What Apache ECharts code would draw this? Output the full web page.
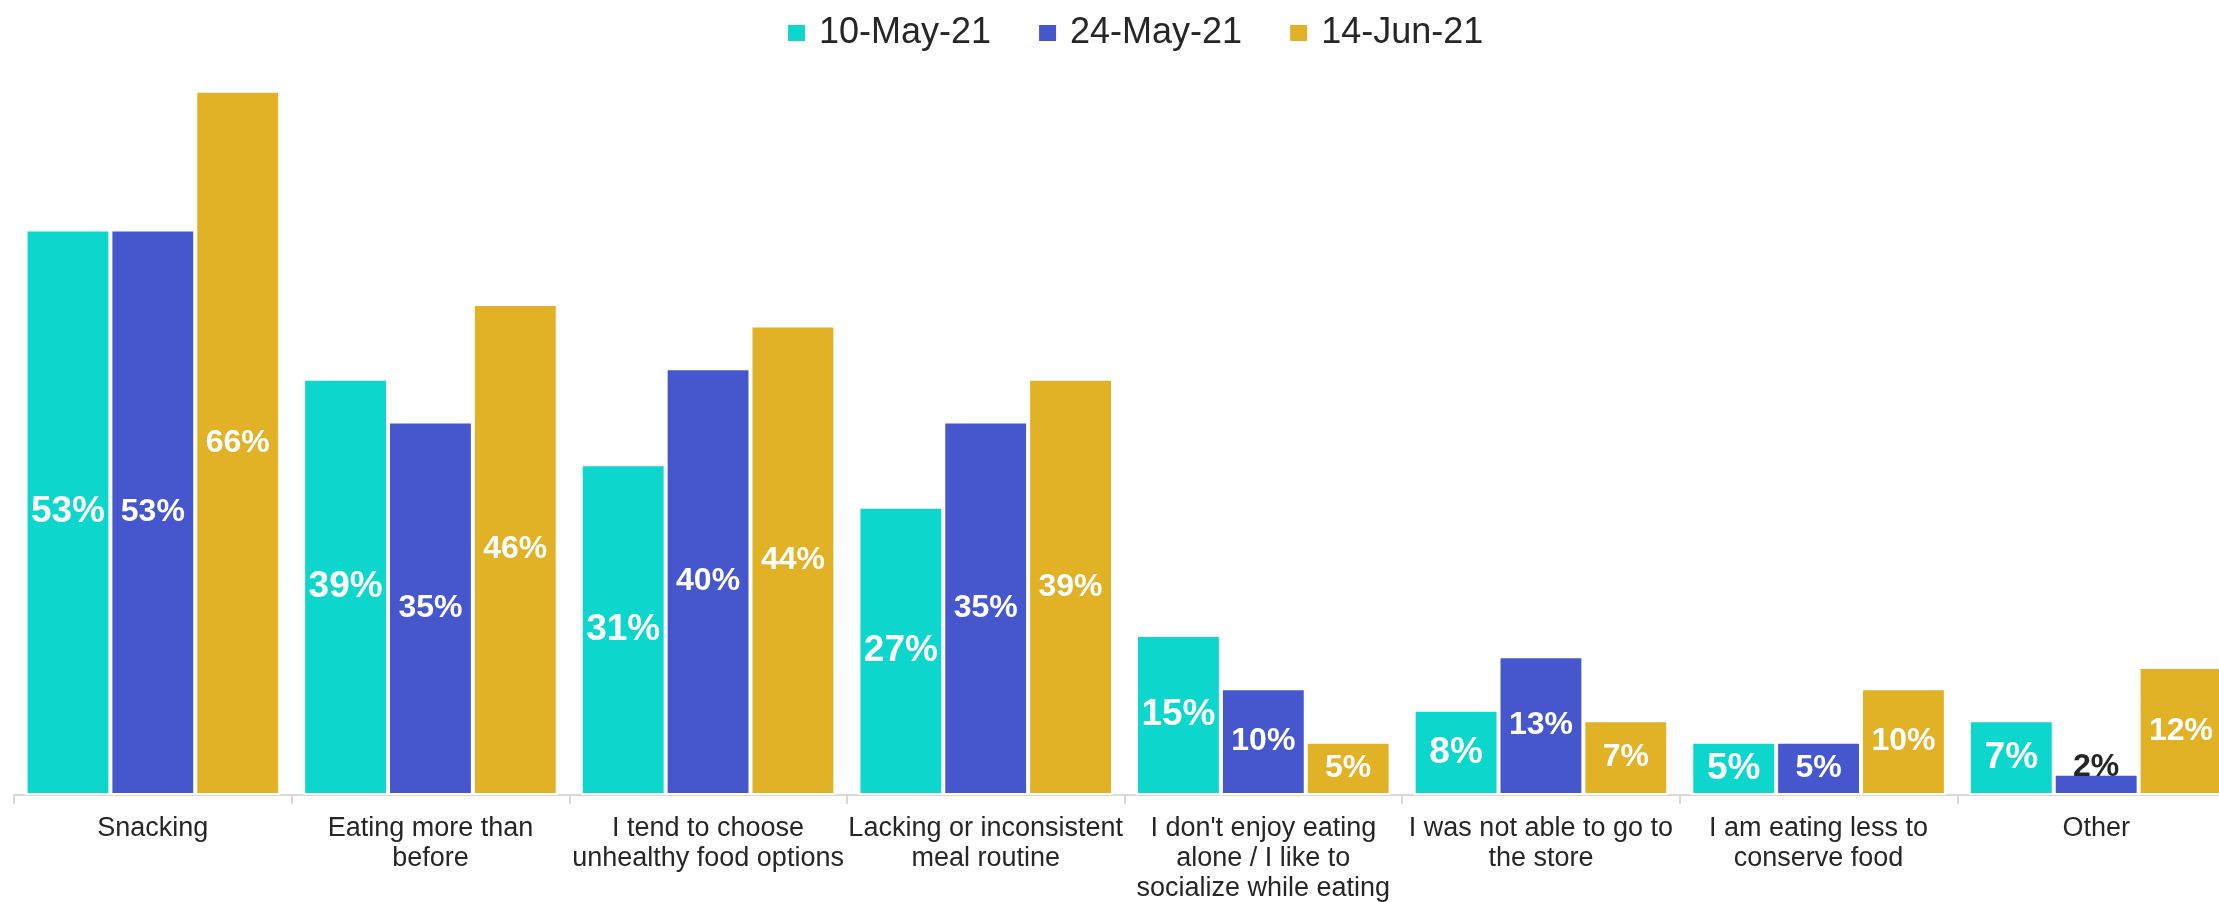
<!DOCTYPE html>
<html>
<head>
<meta charset="utf-8">
<script src="https://cdn.jsdelivr.net/npm/echarts@6/dist/echarts.min.js"></script>
<style>
  html, body { margin: 0; padding: 0; background: #ffffff; overflow: hidden; }
  /* the plot runs slightly past the right edge of the window */
  #chart { width: 2240px; height: 902px; }
</style>
</head>
<body>
<div id="chart"></div>
<script>
// Reasons given for changes in eating habits, by survey wave (% of respondents)
const categories = [
  'Snacking',
  'Eating more than\nbefore',
  'I tend to choose\nunhealthy food options',
  'Lacking or inconsistent\nmeal routine',
  "I don't enjoy eating\nalone / I like to\nsocialize while eating",
  'I was not able to go to\nthe store',
  'I am eating less to\nconserve food',
  'Other'
];
const seriesNames = ['10-May-21', '24-May-21', '14-Jun-21'];
const may10 = [53, 39, 31, 27, 15, 8, 5, 7];
const may24 = [53, 35, 40, 35, 10, 13, 5, 2];
const jun14 = [66, 46, 44, 39, 5, 7, 10, 12];

const colors = ['#0DD7CD', '#4657CD', '#E1B126'];
const labelSizes = [37, 32, 32];
const FONT = '"Liberation Sans", Arial, sans-serif';

function buildData(values) {
  return values.map(function (v) {
    // very short bars get a dark label sitting on top of the bar
    if (v < 4) {
      return {
        value: v,
        label: { position: 'top', distance: -10, color: '#262626' }
      };
    }
    return v;
  });
}

function makeSeries(name, values, idx) {
  return {
    name: name,
    type: 'bar',
    barGap: '0%',
    barCategoryGap: '8.3%',
    data: buildData(values),
    itemStyle: {
      color: colors[idx],
      borderColor: '#ffffff',
      borderWidth: 2
    },
    label: {
      show: true,
      position: 'inside',
      color: '#ffffff',
      fontFamily: FONT,
      fontWeight: 'bold',
      fontSize: labelSizes[idx],
      formatter: function (p) { return p.value + '%'; }
    },
    emphasis: { disabled: true },
    animation: false
  };
}

const chart = echarts.init(document.getElementById('chart'), null, { renderer: 'canvas' });
chart.setOption({
  backgroundColor: '#ffffff',
  textStyle: { fontFamily: FONT },
  legend: {
    data: seriesNames,
    left: 781,
    top: 10,
    icon: 'rect',
    itemWidth: 19,
    itemHeight: 18,
    itemGap: 46,
    textStyle: {
      fontFamily: FONT,
      fontSize: 36,
      color: '#262626',
      padding: [0, 0, 0, 8]
    }
  },
  grid: {
    left: 14,
    right: 5,
    top: 48,
    bottom: 107,
    containLabel: false,
    outerBoundsMode: 'none'
  },
  xAxis: {
    type: 'category',
    data: categories,
    axisLine: { show: true, lineStyle: { color: '#d9d9d9', width: 2 } },
    axisTick: { show: true, length: 9, lineStyle: { color: '#d9d9d9', width: 2 } },
    axisLabel: {
      interval: 0,
      margin: 19,
      fontFamily: FONT,
      fontSize: 27,
      lineHeight: 30,
      color: '#262626'
    }
  },
  yAxis: {
    type: 'value',
    min: 0,
    max: 70,
    show: false,
    splitLine: { show: false }
  },
  series: [
    makeSeries(seriesNames[0], may10, 0),
    makeSeries(seriesNames[1], may24, 1),
    makeSeries(seriesNames[2], jun14, 2)
  ]
});
</script>
</body>
</html>
